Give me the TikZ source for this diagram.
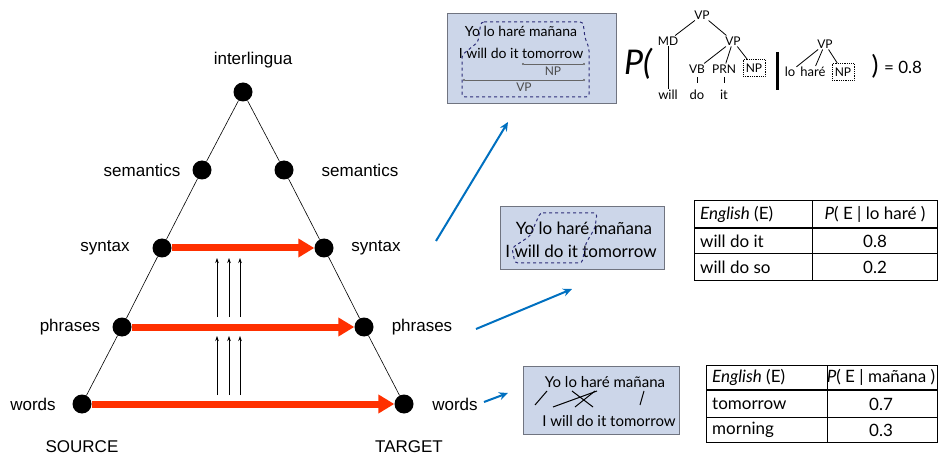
\documentclass[tikz,border=0pt]{standalone}
\usepackage{xcolor}
\usepackage{fontspec}
\setmainfont{Liberation Sans}
\newfontfamily\gillfont{Lato}
\usepackage{tikz}
\usetikzlibrary{arrows.meta}

\definecolor{boxblue}{RGB}{204,214,233}
\definecolor{boxedge}{RGB}{112,116,128}
\definecolor{redarrow}{RGB}{255,48,0}
\definecolor{bluearrow}{RGB}{0,112,192}
\definecolor{chunknavy}{RGB}{45,45,120}

\tikzset{
  dot/.style={circle,fill=black,inner sep=0pt,minimum size=19pt},
  level/.style={font=\fontsize{17}{20}\selectfont,inner sep=0pt},
  transfer/.style={draw=redarrow,line width=7pt,-{Triangle[length=16pt,width=18pt]}},
  lift/.style={-{Stealth[length=5pt,width=3.5pt]},line width=0.6pt},
  zoomin/.style={draw=bluearrow,line width=2pt,-{Stealth[length=9pt,width=8pt]}},
  sentbox/.style={draw=boxedge,fill=boxblue,line width=1pt,inner sep=0pt},
  sent/.style={font=\gillfont\fontsize{#1}{18}\selectfont,inner sep=0pt},
  sent/.default=15,
  chunk/.style={draw=chunknavy,dashed,line width=1pt,rounded corners=3pt},
  span/.style={draw=black!60,line width=0.6pt,{Circle[length=2pt]}-{Circle[length=2pt]}},
  align/.style={line width=1pt},
  cat/.style={font=\gillfont\fontsize{12}{13}\selectfont,inner sep=1pt},
  leaf/.style={font=\gillfont\fontsize{13}{14}\selectfont,inner sep=1pt},
  slot/.style={cat,draw,densely dotted,line width=0.8pt,minimum width=22pt,minimum height=17pt},
  branch/.style={line width=0.8pt},
  cell/.style={font=\gillfont\fontsize{17}{20}\selectfont,inner sep=0pt},
  tabline/.style={line width=1pt}
}

\begin{document}
\begin{tikzpicture}[x=1pt,y=-1pt]
                    \useasboundingbox (0,0) rectangle (940,457);

                    \node[level] (interlingua) at (253,60) {interlingua};
                    \node[level] (semantics src) at (142,170) {semantics};
                    \node[level] (semantics tgt) at (360,170) {semantics};
                    \node[level] (syntax src) at (105,248) {syntax};
                    \node[level] (syntax tgt) at (376,248) {syntax};
                    \node[level] (phrases src) at (70,327) {phrases};
                    \node[level] (phrases tgt) at (422,327) {phrases};
                    \node[level] (words src) at (33,404) {words};
                    \node[level] (words tgt) at (455,404) {words};
                    \node[level] (source) at (82,447) {SOURCE};
                    \node[level] (target) at (409,447) {TARGET};

                    \node[dot] (top) at (243,92) {};
                    \node[dot] (sem-l) at (202,170) {};
                    \node[dot] (sem-r) at (284,170) {};
                    \node[dot] (syn-l) at (162,248) {};
                    \node[dot] (syn-r) at (324,248) {};
                    \node[dot] (phr-l) at (122,327) {};
                    \node[dot] (phr-r) at (364,327) {};
                    \node[dot] (wrd-l) at (82,404) {};
                    \node[dot] (wrd-r) at (404,404) {};

                    \draw[line width=0.6pt] (wrd-l) -- (phr-l) -- (syn-l) -- (sem-l) -- (top)
                          -- (sem-r) -- (syn-r) -- (phr-r) -- (wrd-r);

                    \draw[transfer] (syn-l) -- (syn-r);
                    \draw[transfer] (phr-l) -- (phr-r);
                    \draw[transfer] (wrd-l) -- (wrd-r);

                    \foreach \x [count=\i] in {217,229,240} {
                      \coordinate (up\i-a) at (\x,395);
                      \coordinate (up\i-b) at (\x,336);
                      \coordinate (up\i-c) at (\x,317);
                      \coordinate (up\i-d) at (\x,258);
                      \draw[lift] (up\i-a) -- (up\i-b);
                      \draw[lift] (up\i-c) -- (up\i-d);
                    }

                    \coordinate (hop1-a) at (436,241);
                    \coordinate (hop1-b) at (508,122);
                    \coordinate (hop2-a) at (476,329);
                    \coordinate (hop2-b) at (572,289);
                    \coordinate (hop3-a) at (484,402);
                    \coordinate (hop3-b) at (508,393);
                    \draw[zoomin] (hop1-a) -- (hop1-b);
                    \draw[zoomin] (hop2-a) -- (hop2-b);
                    \draw[zoomin] (hop3-a) -- (hop3-b);

                    \node[sentbox,minimum width=169pt,minimum height=90pt] (treebox) at (531.5,59) {};
                    \node[sent=14] (tree es) at (521,31) {Yo lo haré mañana};
                    \node[sent=14] (tree en) at (521,53) {I will do it tomorrow};
                    \coordinate (np-a) at (522,64);
                    \coordinate (np-b) at (585,64);
                    \coordinate (vp-a) at (463,80);
                    \coordinate (vp-b) at (585,80);
                    \draw[span] (np-a) -- (np-b);
                    \draw[span] (vp-a) -- (vp-b);
                    \node[cat,text=black!70] (np label) at (553,71) {NP};
                    \node[cat,text=black!70] (vp label) at (524,87) {VP};
                    \draw[chunk] (481,22) -- (583,22) -- (585,38) -- (589,48) -- (589,97)
                          -- (462,97) -- (462,55) -- (478,42) -- cycle;

                    \node[sentbox,minimum width=164pt,minimum height=63pt] (phrbox) at (582,238.5) {};
                    \node[sent=17] (phr es) at (584,228) {Yo lo haré mañana};
                    \node[sent=17] (phr en) at (581,251) {I will do it tomorrow};
                    \draw[chunk] (540,213) -- (597,213) -- (595,228) -- (586,243) -- (582,263)
                          -- (515,263) -- (512,248) -- (530,236) -- cycle;

                    \node[sentbox,minimum width=156pt,minimum height=68pt] (wrdbox) at (601,400) {};
                    \node[sent=15] (wrd es) at (605,382) {Yo lo haré mañana};
                    \node[sent=15] (wrd en) at (609,421) {I will do it tomorrow};
                    \draw[align] (547,391) -- (535,405);
                    \draw[align] (597,391) -- (553,407);
                    \draw[align] (595,391) -- (575,407);
                    \draw[align] (572,391) -- (593,407);
                    \draw[align] (644,391) -- (640,405);

                    \node[font=\gillfont\itshape\fontsize{34}{36}\selectfont,inner sep=0pt] (prob) at (638,64) {P(};
                    \node[cat] (vp1) at (702,15) {VP};
                    \node[cat] (md) at (668,41) {MD};
                    \node[cat] (vp2) at (733,41) {VP};
                    \node[cat] (vb) at (697,69) {VB};
                    \node[cat] (prn) at (724,69) {PRN};
                    \node[slot] (np1) at (754,68) {NP};
                    \node[leaf] (will) at (668,95) {will};
                    \node[leaf] (do) at (697,95) {do};
                    \node[leaf] (it) at (724,95) {it};
                    \draw[branch] (vp1) -- (md);
                    \draw[branch] (vp1) -- (vp2);
                    \draw[branch] (vp2) -- (vb);
                    \draw[branch] (vp2) -- (prn);
                    \draw[branch] (vp2) -- (np1);
                    \draw[branch] (md) -- (will);
                    \draw[branch,shorten <=3pt,shorten >=6pt] (vb) -- (do);
                    \draw[branch,shorten <=3pt,shorten >=6pt] (prn) -- (it);

                    \coordinate (given-a) at (777,52);
                    \coordinate (given-b) at (777,90);
                    \draw[line width=3pt] (given-a) -- (given-b);

                    \node[cat] (vp3) at (825,44) {VP};
                    \node[leaf] (lo) at (790,72) {lo};
                    \node[leaf] (hare) at (813,72) {haré};
                    \node[slot] (np2) at (843,72) {NP};
                    \draw[branch] (vp3) -- (lo);
                    \draw[branch] (vp3) -- (hare);
                    \draw[branch] (vp3) -- (np2);
                    \node[font=\gillfont\fontsize{26}{28}\selectfont,inner sep=0pt] (close) at (875,66) {)};
                    \node[font=\gillfont\fontsize{17}{20}\selectfont,inner sep=0pt] (value) at (903,67) {= 0.8};

                    \draw[tabline] (694,201) rectangle (937,280);
                    \draw[tabline] (812,201) -- (812,280);
                    \draw[line width=2pt] (694,228) -- (937,228);
                    \draw[tabline] (694,254) -- (937,254);
                    \node[cell,anchor=west] (t1-h1) at (700,214) {\textit{English} (E)};
                    \node[cell] (t1-h2) at (875,214) {\textit{P}( E | lo haré )};
                    \node[cell,anchor=west] (t1-a) at (700,241) {will do it};
                    \node[cell] (t1-ap) at (875,241) {0.8};
                    \node[cell,anchor=west] (t1-b) at (700,267) {will do so};
                    \node[cell] (t1-bp) at (875,267) {0.2};

                    \draw[tabline] (706,365) rectangle (937,442);
                    \draw[tabline] (827,365) -- (827,442);
                    \draw[line width=2pt] (706,390) -- (937,390);
                    \draw[tabline] (706,417) -- (937,417);
                    \node[cell,anchor=west] (t2-h1) at (712,377) {\textit{English} (E)};
                    \node[cell] (t2-h2) at (881,377) {\textit{P}( E | mañana )};
                    \node[cell,anchor=west] (t2-a) at (712,404) {tomorrow};
                    \node[cell] (t2-ap) at (881,404) {0.7};
                    \node[cell,anchor=west] (t2-b) at (712,430) {morning};
                    \node[cell] (t2-bp) at (881,430) {0.3};
                \end{tikzpicture}
\end{document}
